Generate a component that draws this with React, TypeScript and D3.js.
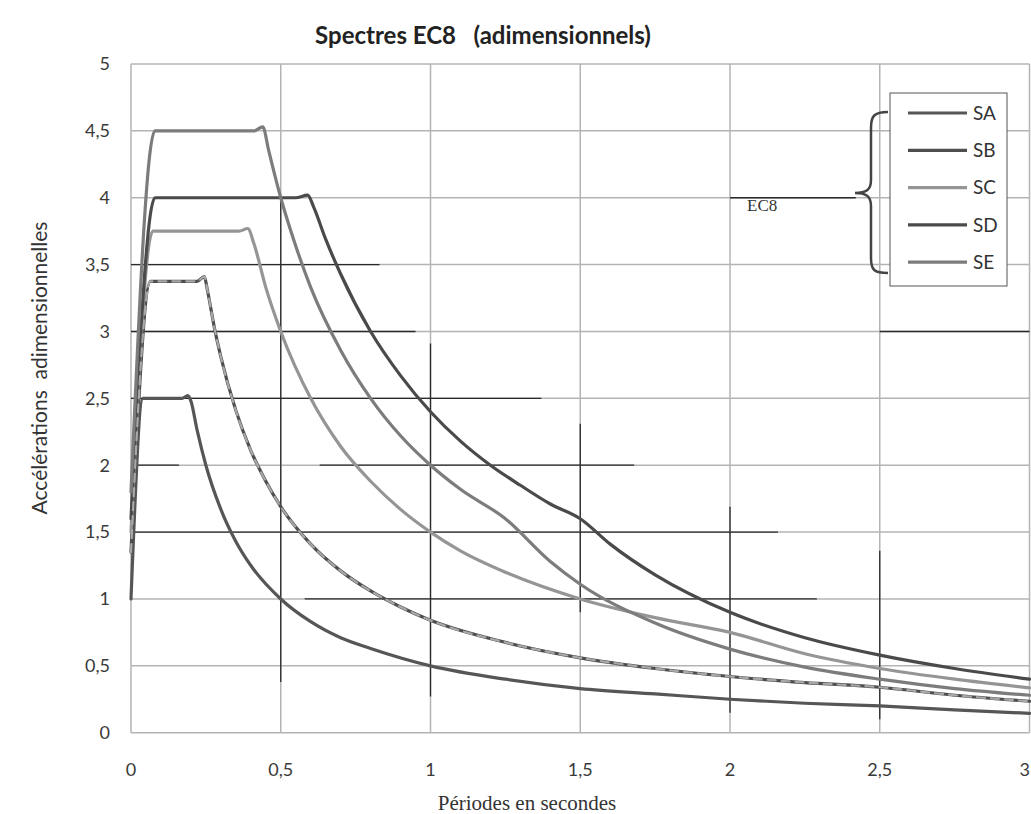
import React from "react";
import * as d3 from "d3";

// valeurs (périodes en s, accélérations adimensionnelles)
const saT = [0, 0.04, 0.17, 0.19, 0.2, 0.22, 0.25, 0.3, 0.35, 0.4, 0.5, 0.6, 0.7, 0.8, 1.0, 1.25, 1.5, 1.75, 2.0, 2.25, 2.5, 2.75, 3.0];
const saA = [1.0, 2.5, 2.5, 2.52, 2.48, 2.27, 2.0, 1.67, 1.43, 1.25, 1.0, 0.83, 0.71, 0.63, 0.5, 0.4, 0.33, 0.29, 0.25, 0.22, 0.2, 0.17, 0.145];

const sbT = [0, 0.065, 0.22, 0.245, 0.255, 0.28, 0.3, 0.35, 0.4, 0.45, 0.5, 0.6, 0.7, 0.8, 0.9, 1.0, 1.25, 1.5, 1.75, 2.0, 2.25, 2.5, 2.75, 3.0];
const sbA = [1.35, 3.375, 3.375, 3.41, 3.31, 3.01, 2.81, 2.41, 2.11, 1.88, 1.69, 1.41, 1.21, 1.06, 0.94, 0.84, 0.675, 0.56, 0.48, 0.42, 0.375, 0.34, 0.28, 0.235];

const scT = [0, 0.073, 0.36, 0.39, 0.41, 0.45, 0.5, 0.6, 0.7, 0.8, 0.9, 1.0, 1.1, 1.25, 1.5, 1.75, 2.0, 2.25, 2.5, 2.75, 3.0];
const scA = [1.5, 3.75, 3.75, 3.77, 3.66, 3.33, 3.0, 2.5, 2.14, 1.88, 1.67, 1.5, 1.36, 1.2, 1.0, 0.86, 0.75, 0.59, 0.48, 0.4, 0.335];

const sdT = [0, 0.08, 0.55, 0.59, 0.61, 0.65, 0.7, 0.8, 0.9, 1.0, 1.1, 1.2, 1.3, 1.4, 1.5, 1.6, 1.75, 2.0, 2.25, 2.5, 2.75, 3.0];
const sdA = [1.6, 4.0, 4.0, 4.02, 3.93, 3.69, 3.43, 3.0, 2.67, 2.4, 2.18, 2.0, 1.85, 1.71, 1.6, 1.41, 1.18, 0.9, 0.71, 0.58, 0.48, 0.4];

const seT = [0, 0.08, 0.41, 0.44, 0.46, 0.5, 0.55, 0.6, 0.7, 0.8, 0.9, 1.0, 1.1, 1.25, 1.4, 1.5, 1.75, 2.0, 2.25, 2.5, 2.75, 3.0];
const seA = [1.8, 4.5, 4.5, 4.53, 4.35, 4.0, 3.64, 3.33, 2.86, 2.5, 2.22, 2.0, 1.82, 1.6, 1.28, 1.11, 0.82, 0.625, 0.49, 0.4, 0.33, 0.28];

const seriesNames = ["SA", "SB", "SC", "SD", "SE"];
const seriesColors = ["#565656", "#4e4e4e", "#959595", "#4a4a4a", "#7c7c7c"];

const xTicks = [0, 0.5, 1, 1.5, 2, 2.5, 3];
const yTicks = [0, 0.5, 1, 1.5, 2, 2.5, 3, 3.5, 4, 4.5, 5];

// bouts de quadrillage plus foncés (scan) : [valeur, début, fin]
const darkH = [[4, 2.0, 2.42], [3.5, 0, 0.83], [3, 0, 0.95], [3, 2.5, 3], [2.5, 0, 1.37], [2, 0, 0.16], [2, 0.63, 1.68], [1.5, 0, 2.16], [1, 0.58, 2.29]];
const darkV = [[0.5, 0.38, 4.0], [1, 0.27, 2.91], [1.5, 0.9, 2.31], [2, 0.15, 1.69], [2.5, 0.1, 1.36]];

const W = 1031;
const H = 814;
const fmt = (d: number) => String(d).replace(".", ",");
const sans = "Lato, 'Open Sans', sans-serif";
const serif = "'Liberation Serif', serif";

export default function App() {
  const x = d3.scaleLinear().domain([0, 3]).range([131, 1029.5]);
  const y = d3.scaleLinear().domain([0, 5]).range([732.7, 64]);

  const line = d3
    .line<[number, number]>()
    .x((d) => x(d[0]))
    .y((d) => y(d[1]))
    .curve(d3.curveMonotoneX);

  const zip = (t: number[], a: number[]) => t.map((v, i) => [v, a[i]] as [number, number]);
  const series = [zip(saT, saA), zip(sbT, sbA), zip(scT, scA), zip(sdT, sdA), zip(seT, seA)];

  const legendX = 890;
  const legendY = 93;
  const rowH = 37.3;

  return (
    <svg width={W} height={H} style={{ position: "absolute", left: 0, top: 0, background: "#fff" }}>
      <rect x={0} y={0} width={W} height={H} fill="#fff" />

      {/* quadrillage */}
      <g stroke="#b4b4b4" strokeWidth={1.5}>
        {yTicks.map((t) => (
          <line key={"h" + t} x1={x(0)} x2={x(3)} y1={y(t)} y2={y(t)} />
        ))}
        {xTicks.map((t) => (
          <line key={"v" + t} x1={x(t)} x2={x(t)} y1={y(0)} y2={y(5)} />
        ))}
      </g>
      <g stroke="#2a2a2a" strokeWidth={1.3}>
        {darkH.map((d, i) => (
          <line key={"dh" + i} x1={x(d[1])} x2={x(d[2])} y1={y(d[0])} y2={y(d[0])} />
        ))}
        {darkV.map((d, i) => (
          <line key={"dv" + i} x1={x(d[0])} x2={x(d[0])} y1={y(d[1])} y2={y(d[2])} />
        ))}
      </g>

      {/* courbes */}
      <g fill="none" strokeWidth={3.2} strokeLinejoin="round" strokeLinecap="round">
        {series.map((s, i) => (
          <path key={seriesNames[i]} d={line(s) || ""} stroke={seriesColors[i]} />
        ))}
        <path d={line(series[1]) || ""} stroke="#a8a8a8" strokeWidth={2.2} strokeDasharray="8 6" />
      </g>

      {/* graduations */}
      <g fontFamily={sans} fontSize={18} fill="#3a3a3a">
        {yTicks.map((t) => (
          <text key={"yl" + t} x={110} y={y(t)} dy="0.35em" textAnchor="end">
            {fmt(t)}
          </text>
        ))}
        {xTicks.map((t, i) => (
          <text
            key={"xl" + t}
            x={i === xTicks.length - 1 ? W - 1 : x(t)}
            y={776}
            textAnchor={i === xTicks.length - 1 ? "end" : "middle"}
          >
            {fmt(t)}
          </text>
        ))}
      </g>

      <text
        x={483}
        y={44}
        textAnchor="middle"
        fontFamily={sans}
        fontWeight={700}
        fontSize={24}
        fill="#222"
        style={{ whiteSpace: "pre" }}
      >
        {"Spectres EC8   (adimensionnels)"}
      </text>

      <text x={527} y={810} textAnchor="middle" fontFamily={serif} fontSize={21} fill="#333">
        Périodes en secondes
      </text>

      <text
        transform={`translate(47,368) rotate(-90)`}
        textAnchor="middle"
        fontFamily={sans}
        fontSize={21}
        fill="#333"
        style={{ whiteSpace: "pre" }}
      >
        {"Accélérations  adimensionnelles"}
      </text>

      <text x={747} y={211} fontFamily={serif} fontSize={17} fill="#333">
        EC8
      </text>

      {/* accolade */}
      <path
        d="M888,112 C874,112 871,116 871,128 L871,180 C871,190 866,193 855,193 C866,193 871,196 871,206 L871,258 C871,270 874,273 888,273"
        fill="none"
        stroke="#444"
        strokeWidth={2.5}
      />

      {/* légende */}
      <rect x={legendX} y={legendY} width={117} height={193} fill="#fff" stroke="#555" strokeWidth={1} />
      {seriesNames.map((n, i) => (
        <g key={"lg" + n}>
          <line
            x1={908}
            x2={967}
            y1={legendY + 20 + i * rowH}
            y2={legendY + 20 + i * rowH}
            stroke={seriesColors[i]}
            strokeWidth={3.2}
          />
          <text x={973} y={legendY + 20 + i * rowH} dy="0.35em" fontFamily={sans} fontSize={19} fill="#333">
            {n}
          </text>
        </g>
      ))}
    </svg>
  );
}
